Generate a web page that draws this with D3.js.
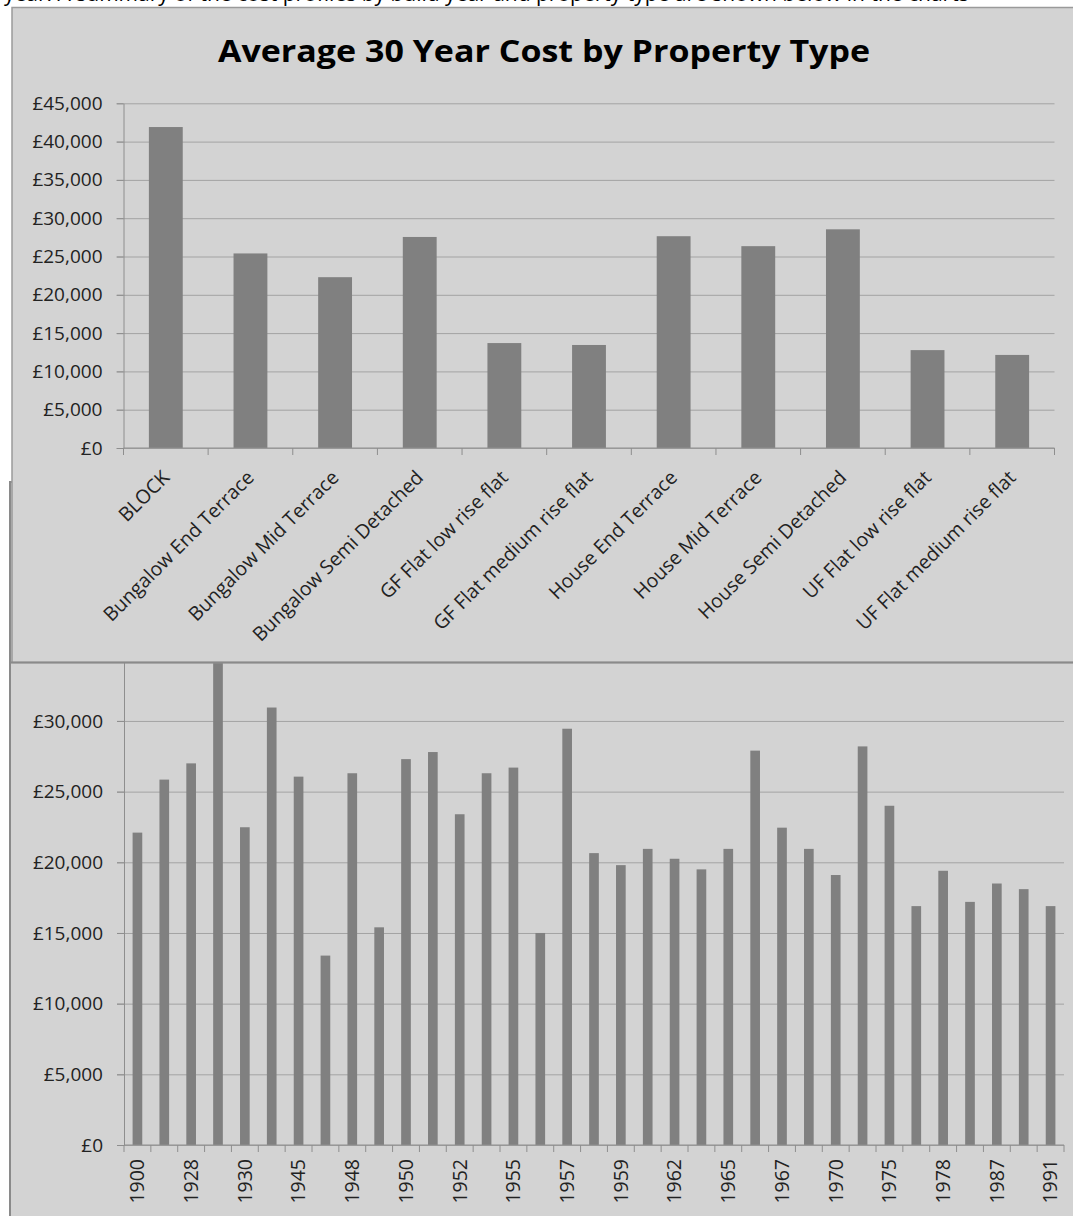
<!DOCTYPE html>
<html>
<head>
<meta charset="utf-8">
<script src="https://cdn.jsdelivr.net/npm/d3@7"></script>
<style>
  body { margin: 0; background: #fff; }
  svg { display: block; }
</style>
</head>
<body>
<div id="chart"></div>
<script>
// ***Data***
var propertyTypes = ["BLOCK", "Bungalow End Terrace", "Bungalow Mid Terrace", "Bungalow Semi Detached",
  "GF Flat low rise flat", "GF Flat medium rise flat", "House End Terrace", "House Mid Terrace",
  "House Semi Detached", "UF Flat low rise flat", "UF Flat medium rise flat"];
var propertyCost = [41900, 25400, 22300, 27550, 13700, 13450, 27650, 26350, 28550, 12780, 12150];
var costTicks = [0, 5000, 10000, 15000, 20000, 25000, 30000, 35000, 40000, 45000];

var buildYears = ["1900", "1919", "1928", "1929", "1930", "1939", "1945", "1946", "1948", "1949",
  "1950", "1951", "1952", "1954", "1955", "1956", "1957", "1958", "1959", "1960",
  "1962", "1963", "1965", "1966", "1967", "1968", "1970", "1972", "1975", "1976",
  "1978", "1980", "1987", "1989", "1991"];
var yearCost = [22100, 25850, 27000, 36000, 22480, 30950, 26060, 13400, 26300, 15400,
  27300, 27800, 23400, 26300, 26700, 15000, 29450, 20650, 19800, 20950,
  20250, 19500, 20950, 27900, 22450, 20950, 19100, 28200, 24000, 16900,
  19400, 17200, 18500, 18100, 16900];
var yearTicks = [0, 5000, 10000, 15000, 20000, 25000, 30000, 35000, 40000];

function init() {
  var w = 1073, h = 1216;
  var font = "'Open Sans', sans-serif";
  var panelFill = "#d3d3d3", gridCol = "#a3a3a3", axisCol = "#8e8e8e", barCol = "#808080";
  var money = function(d) { return "£" + d3.format(",")(d); };

  var svg = d3.select("#chart").append("svg")
    .attr("width", w).attr("height", h);

  svg.append("rect").attr("width", w).attr("height", h).attr("fill", "#fff");

  // text line of the page, cut off at the top as in the picture
  svg.append("text")
    .attr("x", 4).attr("y", 1)
    .attr("font-family", font).attr("font-size", 21).attr("fill", "#000")
    .text("year. A summary of the cost profiles by build year and property type are shown below in the charts");

  // ***Bottom chart (by build year)***
  svg.append("rect")
    .attr("x", 10).attr("y", 482).attr("width", 1080).attr("height", 800)
    .attr("fill", panelFill).attr("stroke", "#8a8a8a").attr("stroke-width", 2);

  var x2 = d3.scaleBand().domain(buildYears).range([124, 1064]).paddingInner(0.64).paddingOuter(0.32);
  var y2 = d3.scaleLinear().domain([0, 40000]).range([1145, 579.6]);

  svg.append("g")
    .attr("transform", "translate(117,0)")
    .call(d3.axisLeft(y2).tickValues(yearTicks).tickSize(-(1064 - 117)).tickFormat(""))
    .call(function(g) {
      g.select(".domain").remove();
      g.selectAll("line").attr("stroke", gridCol);
    });

  svg.append("g").selectAll("rect")
    .data(yearCost)
    .enter()
    .append("rect")
    .attr("x", function(d, i) { return x2(buildYears[i]); })
    .attr("y", function(d) { return y2(d); })
    .attr("width", x2.bandwidth())
    .attr("height", function(d) { return y2(0) - y2(d); })
    .attr("fill", barCol);

  var yAx2 = svg.append("g")
    .attr("transform", "translate(124,0)")
    .call(d3.axisLeft(y2).tickValues(yearTicks).tickSize(7).tickSizeOuter(0).tickPadding(14).tickFormat(money));
  yAx2.select(".domain").attr("stroke", axisCol);
  yAx2.selectAll("line").attr("stroke", axisCol);
  yAx2.selectAll("text").attr("font-family", font).attr("font-size", 19).attr("fill", "#222");

  var xAx2 = svg.append("g")
    .attr("transform", "translate(0,1145)")
    .call(d3.axisBottom(x2).tickSize(0).tickPadding(0)
      .tickValues(buildYears.filter(function(d, i) { return i % 2 === 0; })));
  xAx2.select(".domain").attr("stroke", axisCol).attr("d", "M124,0H1064");
  xAx2.selectAll("text")
    .attr("font-family", font).attr("font-size", 19.5).attr("fill", "#222")
    .attr("text-anchor", "end")
    .attr("transform", "rotate(-90)")
    .attr("x", -14).attr("y", 0).attr("dy", "0.35em");
  xAx2.selectAll(".boundary")
    .data(d3.range(buildYears.length + 1))
    .enter()
    .append("line")
    .attr("x1", function(i) { return 124 + i * x2.step(); })
    .attr("x2", function(i) { return 124 + i * x2.step(); })
    .attr("y1", 0).attr("y2", 7)
    .attr("stroke", axisCol);

  // ***Top chart (by property type)***
  svg.append("rect")
    .attr("x", 12).attr("y", 7.5).attr("width", 1080).attr("height", 655)
    .attr("fill", panelFill).attr("stroke", "#9a9a9a").attr("stroke-width", 1.5);
  svg.append("line")
    .attr("x1", 11).attr("x2", 1073).attr("y1", 662.5).attr("y2", 662.5)
    .attr("stroke", "#8a8a8a").attr("stroke-width", 2);

  svg.append("text")
    .attr("x", 544).attr("y", 62)
    .attr("text-anchor", "middle")
    .attr("font-family", font).attr("font-weight", "bold").attr("font-size", 30)
    .attr("textLength", 652).attr("lengthAdjust", "spacingAndGlyphs")
    .attr("fill", "#000")
    .text("Average 30 Year Cost by Property Type");

  var x1 = d3.scaleBand().domain(propertyTypes).range([123.5, 1054.5]).paddingInner(0.6).paddingOuter(0.3);
  var y1 = d3.scaleLinear().domain([0, 45000]).range([448, 103.3]);

  svg.append("g")
    .attr("transform", "translate(117,0)")
    .call(d3.axisLeft(y1).tickValues(costTicks).tickSize(-(1054.5 - 117)).tickFormat(""))
    .call(function(g) {
      g.select(".domain").remove();
      g.selectAll("line").attr("stroke", gridCol);
    });

  svg.append("g").selectAll("rect")
    .data(propertyCost)
    .enter()
    .append("rect")
    .attr("x", function(d, i) { return x1(propertyTypes[i]); })
    .attr("y", function(d) { return y1(d); })
    .attr("width", x1.bandwidth())
    .attr("height", function(d) { return y1(0) - y1(d); })
    .attr("fill", barCol);

  var yAx1 = svg.append("g")
    .attr("transform", "translate(123.5,0)")
    .call(d3.axisLeft(y1).tickValues(costTicks).tickSize(7).tickSizeOuter(0).tickPadding(14).tickFormat(money));
  yAx1.select(".domain").attr("stroke", axisCol);
  yAx1.selectAll("line").attr("stroke", axisCol);
  yAx1.selectAll("text").attr("font-family", font).attr("font-size", 19).attr("fill", "#222");

  var xAx1 = svg.append("g")
    .attr("transform", "translate(0,448)")
    .call(d3.axisBottom(x1).tickSize(0).tickPadding(0));
  xAx1.select(".domain").attr("stroke", axisCol).attr("d", "M123.5,0H1054.5");
  xAx1.selectAll(".tick text")
    .attr("font-family", font).attr("font-size", 19.5).attr("fill", "#222")
    .attr("text-anchor", "end")
    .attr("dy", "0.35em")
    .attr("x", 0).attr("y", 0)
    .attr("transform", "translate(0,26) rotate(-45)");
  xAx1.selectAll(".boundary")
    .data(d3.range(propertyTypes.length + 1))
    .enter()
    .append("line")
    .attr("x1", function(i) { return 123.5 + i * x1.step(); })
    .attr("x2", function(i) { return 123.5 + i * x1.step(); })
    .attr("y1", 0).attr("y2", 7)
    .attr("stroke", axisCol);
}

window.onload = init;
</script>
</body>
</html>
